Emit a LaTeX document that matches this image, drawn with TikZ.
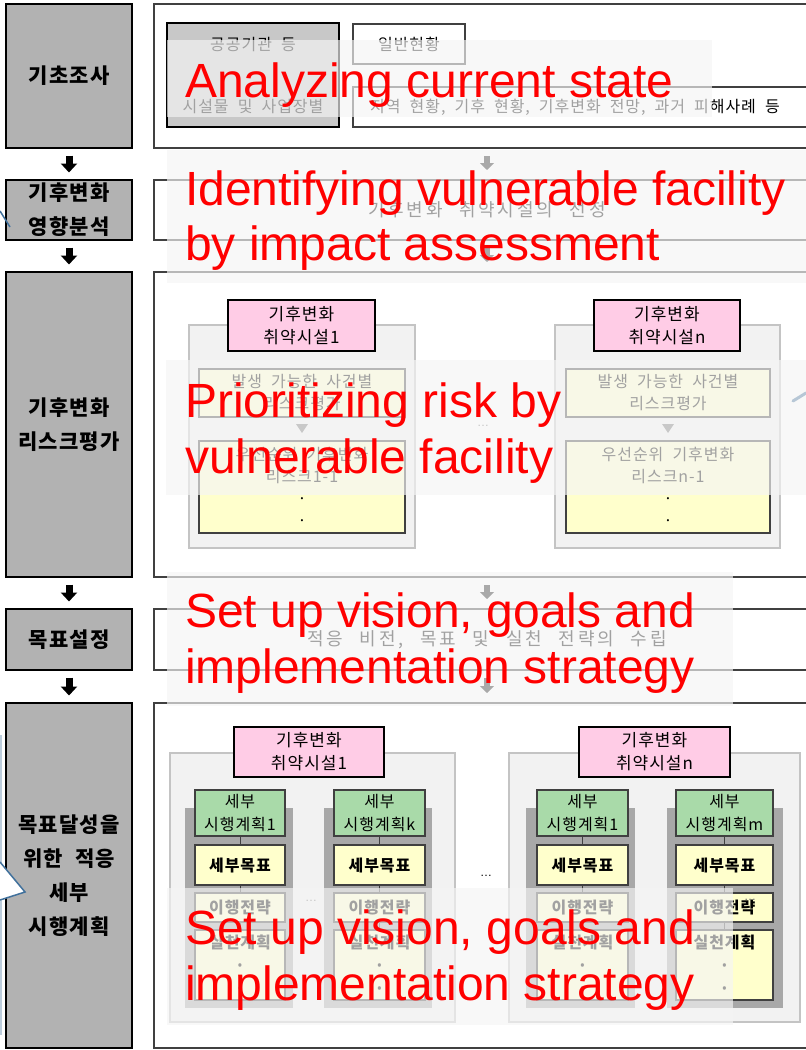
\documentclass[tikz,border=0pt]{standalone}
\usepackage{fontspec}
\setmainfont{Noto Sans CJK KR}
\newfontfamily\stagefont{Noto Sans CJK KR}[LetterSpace=6]
\newfontfamily\krfont{Noto Sans CJK KR}[LetterSpace=6,WordSpace=2]
\newfontfamily\krwide{Noto Sans CJK KR}[LetterSpace=15,WordSpace=2.5]
\newfontfamily\capfont{Liberation Sans}
\usetikzlibrary{arrows.meta,positioning,calc}
\definecolor{StageGray}{HTML}{B2B2B2}
\definecolor{BoxDark}{HTML}{404040}
\definecolor{SourceGray}{HTML}{C8C8C8}
\definecolor{FacPink}{HTML}{FFCCE6}
\definecolor{PlanGreen}{HTML}{A9DAA9}
\definecolor{CellYellow}{HTML}{FFFFCC}
\definecolor{GroupFill}{HTML}{F2F2F2}
\definecolor{GroupLine}{HTML}{C4C4C4}
\definecolor{ShadeGray}{HTML}{A8A8A8}
\definecolor{CallBlue}{HTML}{41719C}
\tikzset{
  stagebox/.style={draw=black,line width=2.5pt,fill=StageGray,anchor=north west,inner sep=0pt,outer sep=0pt,align=center,font=\stagefont\bfseries\fontsize{21}{34}\selectfont},
  stepframe/.style={draw=BoxDark,line width=1.5pt,fill=white,anchor=north west,inner sep=0pt,outer sep=0pt,font=\krwide\fontsize{18}{22}\selectfont},
  infobox/.style={draw=BoxDark,line width=1.5pt,fill=white,anchor=north west,inner sep=0pt,outer sep=0pt},
  infotext/.style={inner sep=0pt,font=\krfont\fontsize{16}{20}\selectfont},
  groupbox/.style={draw=GroupLine,line width=1.2pt,fill=GroupFill,anchor=north west,inner sep=0pt,outer sep=0pt},
  facbox/.style={draw=black,line width=2.5pt,fill=FacPink,anchor=north west,inner sep=0pt,outer sep=0pt,align=center,font=\krfont\fontsize{17}{23}\selectfont},
  riskcell/.style={draw=BoxDark,line width=1.5pt,fill=CellYellow,anchor=north west,inner sep=0pt,outer sep=0pt,align=center,font=\krfont\fontsize{16}{22}\selectfont},
  shadecol/.style={fill=ShadeGray,anchor=north west,inner sep=0pt,outer sep=0pt},
  planhead/.style={draw=BoxDark,line width=1.5pt,fill=PlanGreen,anchor=north west,inner sep=0pt,outer sep=0pt,align=center,font=\krfont\fontsize{16}{23}\selectfont},
  plancell/.style={draw=BoxDark,line width=1.5pt,fill=CellYellow,anchor=north west,inner sep=0pt,outer sep=0pt,align=center,font=\krfont\bfseries\fontsize{16}{23}\selectfont},
  planlink/.style={draw=BoxDark,line width=1pt},
  gapdots/.style={inner sep=0pt,font=\capfont\fontsize{12}{12}\selectfont},
  flowarrow/.style={-{Triangle[length=9pt,width=16pt]},line width=7pt,draw=black,shorten <=7.5pt,shorten >=7.5pt},
  grayarrow/.style={-{Triangle[length=7pt,width=14pt]},line width=5.5pt,draw=black!90,shorten <=8pt,shorten >=10pt},
  veil/.style={fill=black!4,fill opacity=0.66},
  capline/.style={inner sep=0pt,anchor=base west,text=red,font=\capfont\fontsize{48}{56}\selectfont}
}

\begin{document}
\begin{tikzpicture}[x=1pt,y=-1pt]
\useasboundingbox (0,0) rectangle (806,1050);
\fill[white] (0,0) rectangle (806,1050);

% stages on the left
\node[stagebox,minimum width=126,minimum height=144] (s1) at (6,4) {기초조사};
\node[stagebox,minimum width=126,minimum height=60] (s2) at (6,180) {기후변화\\영향분석};
\node[stagebox,minimum width=126,minimum height=305] (s3) at (6,272) {기후변화\\리스크평가};
\node[stagebox,minimum width=126,minimum height=61] (s4) at (6,609) {목표설정};
\node[stagebox,minimum width=126,minimum height=345] (s5) at (6,703) {목표달성을\\위한 적응\\세부\\시행계획};
\draw[flowarrow] (s1.south)--(s2.north);
\draw[flowarrow] (s2.south)--(s3.north);
\draw[flowarrow] (s3.south)--(s4.north);
\draw[flowarrow] (s4.south)--(s5.north);

% frames on the right
\node[stepframe,minimum width=666,minimum height=144] (f1) at (154,4) {};
\node[stepframe,minimum width=666,minimum height=60] (f2) at (154,180) {기후변화 취약시설의 선정};
\node[stepframe,minimum width=666,minimum height=305] (f3) at (154,272) {};
\node[stepframe,minimum width=666,minimum height=61] (f4) at (154,609) {적응 비전, 목표 및 실천 전략의 수립};
\node[stepframe,minimum width=666,minimum height=345] (f5) at (154,703) {};
\draw[grayarrow] (f1.south)--(f2.north);
\draw[grayarrow] (f2.south)--(f3.north);
\draw[grayarrow] (f3.south)--(f4.north);
\draw[grayarrow] (f4.south)--(f5.north);

% survey sources
\node[infobox,fill=SourceGray,line width=2.5pt,draw=black,minimum width=172,minimum height=104] (src) at (167,23) {};
\node[infotext] (src1) at (253,45) {공공기관 등};
\node[infotext] (src2) at (253,107) {시설물 및 사업장별};
\node[infobox,minimum width=112,minimum height=40,font=\krfont\fontsize{16}{20}\selectfont] (gen) at (353,24) {일반현황};
\node[infobox,minimum width=470,minimum height=40] (gen2) at (353,87) {};
\node[infotext,anchor=west,font=\krfont\fontsize{16}{20}\selectfont] (gen2t) at (370,107) {지역 현황, 기후 현황, 기후변화 전망, 과거 피해사례 등};

% risk assessment per facility
\node[groupbox,minimum width=226,minimum height=223] (ra) at (189,325) {};
\node[facbox,minimum width=147,minimum height=51] (rah) at (228,300) {기후변화\\취약시설1};
\node[riskcell,minimum width=206,minimum height=48] (ra1) at (199,369) {발생 가능한 사건별\\리스크평가};
\node[riskcell,minimum width=206,minimum height=92] (ra2) at (199,441) {우선순위 기후변화\\리스크1-1\\·\\·};
\fill[black!55] ($(ra1.south)+(-6,7)$) -- ++(12,0) -- ++(-6,9) -- cycle;

\node[groupbox,minimum width=225,minimum height=223] (rn) at (555,325) {};
\node[facbox,minimum width=146,minimum height=51] (rnh) at (594,300) {기후변화\\취약시설n};
\node[riskcell,minimum width=204,minimum height=48] (rn1) at (566,369) {발생 가능한 사건별\\리스크평가};
\node[riskcell,minimum width=204,minimum height=92] (rn2) at (566,441) {우선순위 기후변화\\리스크n-1\\·\\·};
\fill[black!55] ($(rn1.south)+(-6,7)$) -- ++(12,0) -- ++(-6,9) -- cycle;
\node[gapdots,text=black!60] (rdots) at (483,426) {…};

% detailed plans per facility
\node[groupbox,minimum width=285,minimum height=269] (pa) at (170,753) {};
\node[facbox,minimum width=150,minimum height=50] (pah) at (234,727) {기후변화\\취약시설1};
\node[groupbox,minimum width=291,minimum height=269] (pn) at (509,753) {};
\node[facbox,minimum width=151,minimum height=50] (pnh) at (579,727) {기후변화\\취약시설n};
\node[gapdots] (pdots) at (486,876) {…};

\node[shadecol,minimum width=108,minimum height=200] (k1bg) at (185,808) {};
\node[planhead,minimum width=90,minimum height=46] (k1h) at (195,790) {세부\\시행계획1};
\node[plancell,minimum width=90,minimum height=40] (k1g) at (195,845) {세부목표};
\node[plancell,minimum width=90,minimum height=29] (k1s) at (195,893) {이행전략};
\node[plancell,minimum width=90,minimum height=70] (k1a) at (195,930) {실천계획\\·\\·};
\draw[planlink] (k1h.south)--(k1g.north);
\draw[planlink] (k1g.south)--(k1s.north);
\draw[planlink] (k1s.south)--(k1a.north);

\node[shadecol,minimum width=108,minimum height=200] (kkbg) at (324,808) {};
\node[planhead,minimum width=91,minimum height=46] (kkh) at (334,790) {세부\\시행계획k};
\node[plancell,minimum width=91,minimum height=40] (kkg) at (334,845) {세부목표};
\node[plancell,minimum width=91,minimum height=29] (kks) at (334,893) {이행전략};
\node[plancell,minimum width=91,minimum height=70] (kka) at (334,930) {실천계획\\·\\·};
\draw[planlink] (kkh.south)--(kkg.north);
\draw[planlink] (kkg.south)--(kks.north);
\draw[planlink] (kks.south)--(kka.north);
\node[gapdots,text=black!60] (kdots) at (311,901) {…};

\node[shadecol,minimum width=109,minimum height=200] (m1bg) at (526,808) {};
\node[planhead,minimum width=91,minimum height=46] (m1h) at (537,790) {세부\\시행계획1};
\node[plancell,minimum width=91,minimum height=40] (m1g) at (537,845) {세부목표};
\node[plancell,minimum width=91,minimum height=29] (m1s) at (537,893) {이행전략};
\node[plancell,minimum width=91,minimum height=70] (m1a) at (537,930) {실천계획\\·\\·};
\draw[planlink] (m1h.south)--(m1g.north);
\draw[planlink] (m1g.south)--(m1s.north);
\draw[planlink] (m1s.south)--(m1a.north);

\node[shadecol,minimum width=116,minimum height=200] (mmbg) at (667,808) {};
\node[planhead,minimum width=97,minimum height=46] (mmh) at (676,790) {세부\\시행계획m};
\node[plancell,minimum width=97,minimum height=40] (mmg) at (676,845) {세부목표};
\node[plancell,minimum width=97,minimum height=29] (mms) at (676,893) {이행전략};
\node[plancell,minimum width=97,minimum height=70] (mma) at (676,930) {실천계획\\·\\·};
\draw[planlink] (mmh.south)--(mmg.north);
\draw[planlink] (mmg.south)--(mms.north);
\draw[planlink] (mms.south)--(mma.north);
\node[gapdots,text=black!60] (mdots) at (750,900) {…};

% callout tips at the edges
\draw[CallBlue,line width=1.5pt] (0,211) -- (10,227);
\draw[CallBlue,line width=3pt,line cap=round] (793,401) -- (806,393);
\draw[CallBlue!35,line width=1.5pt] (0.75,735) -- (0.75,1035);
\filldraw[fill=white,draw=CallBlue,line width=1.5pt] (0,862) -- (25,892) -- (0,900);

% translucent labels
\fill[veil] (167,40) rectangle (712,117);
\fill[veil] (167,150) rectangle (820,283);
\fill[veil] (166,360) rectangle (820,495);
\fill[veil] (167,572) rectangle (733,706);
\fill[veil] (167,888) rectangle (733,1025);
\node[capline] (c1) at (185,97) {Analyzing current state};
\node[capline] (c2a) at (185,205) {Identifying vulnerable facility};
\node[capline] (c2b) at (185,260) {by impact assessment};
\node[capline] (c3a) at (185,417) {Prioritizing risk by};
\node[capline] (c3b) at (185,473) {vulnerable facility};
\node[capline] (c4a) at (185,627) {Set up vision, goals and};
\node[capline] (c4b) at (185,683) {implementation strategy};
\node[capline] (c5a) at (185,944) {Set up vision, goals and};
\node[capline] (c5b) at (185,1000) {implementation strategy};
\end{tikzpicture}
\end{document}
